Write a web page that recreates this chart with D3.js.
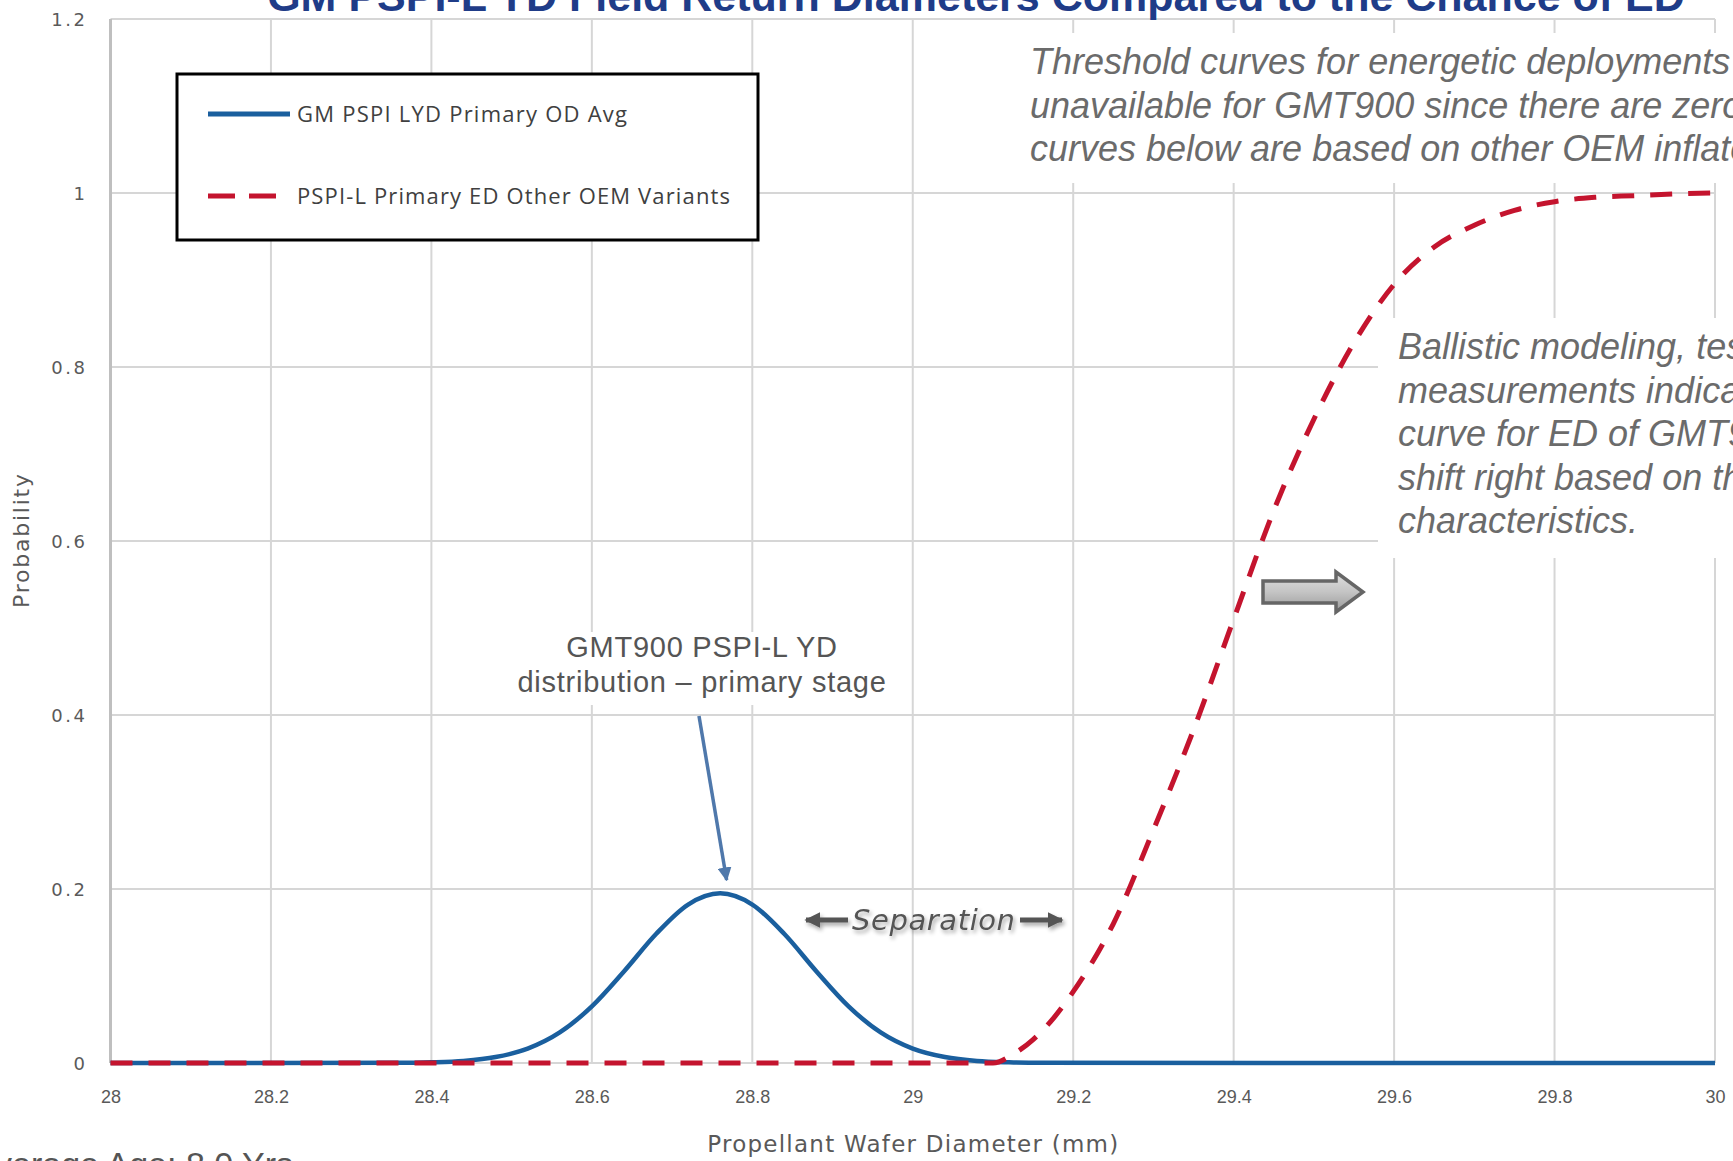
<!DOCTYPE html>
<html>
<head>
<meta charset="utf-8">
<script src="https://cdn.jsdelivr.net/npm/d3@7"></script>
<style>
  html, body { margin: 0; padding: 0; background: #fff; overflow: hidden; }
  svg { display: block; }
</style>
</head>
<body>
<svg id="chart" width="1733" height="1161"></svg>
<script>
// ---------------- DATA ----------------
const xTickValues = [28, 28.2, 28.4, 28.6, 28.8, 29, 29.2, 29.4, 29.6, 29.8, 30];
const xTickLabels = ["28", "28.2", "28.4", "28.6", "28.8", "29", "29.2", "29.4", "29.6", "29.8", "30"];
const yTickValues = [0, 0.2, 0.4, 0.6, 0.8, 1, 1.2];
const yTickLabels = ["0", "0.2", "0.4", "0.6", "0.8", "1", "1.2"];

// GM PSPI LYD Primary OD Avg (distribution)
const blueX = [28, 28.36, 28.40, 28.44, 28.48, 28.52, 28.56, 28.60, 28.64, 28.68, 28.72, 28.76,
               28.80, 28.84, 28.88, 28.92, 28.96, 29.00, 29.04, 29.08, 29.12, 29.16, 30];
const blueY = [0, 0.0002, 0.0008, 0.0024, 0.0068, 0.0165, 0.0351, 0.0651, 0.1052, 0.1482, 0.1821, 0.195,
               0.1821, 0.1482, 0.1052, 0.0651, 0.0351, 0.0165, 0.0068, 0.0024, 0.0008, 0.0002, 0];

// PSPI-L Primary ED Other OEM Variants (threshold curve)
const redX = [28, 29.1, 29.125, 29.15, 29.175, 29.2, 29.25, 29.3, 29.35, 29.4, 29.45, 29.5,
              29.55, 29.6, 29.65, 29.7, 29.75, 29.8, 29.85, 29.9, 29.95, 30];
const redY = [0, 0, 0.010, 0.027, 0.051, 0.082, 0.16, 0.268, 0.383, 0.51, 0.635, 0.74,
              0.828, 0.895, 0.938, 0.963, 0.980, 0.990, 0.995, 0.997, 0.999, 1.0];

const seriesNames = ["GM PSPI LYD Primary OD Avg", "PSPI-L Primary ED Other OEM Variants"];
const titleText = "GM PSPI-L YD Field Return Diameters Compared to the Chance of ED";
const xAxisTitle = "Propellant Wafer Diameter (mm)";
const yAxisTitle = "Probability";
const noteTop = ["Threshold curves for energetic deployments",
                 "unavailable for GMT900 since there are zero",
                 "curves below are based on other OEM inflators"];
const noteRight = ["Ballistic modeling, testing",
                   "measurements indicate",
                   "curve for ED of GMT900",
                   "shift right based on the",
                   "characteristics."];
const peakNote = ["GMT900 PSPI-L YD", "distribution \u2013 primary stage"];
const sepText = "Separation";
const ageText = "Average Age: 8.0 Yrs";

// ---------------- LAYOUT ----------------
const W = 1733, H = 1161;
const plot = { left: 110.5, right: 1715, top: 19, bottom: 1063 };
const svg = d3.select("#chart");

const x = d3.scaleLinear().domain([28, 30]).range([plot.left, plot.right]);
const y = d3.scaleLinear().domain([0, 1.2]).range([plot.bottom, plot.top]);

const defs = svg.append("defs");
const grad = defs.append("linearGradient").attr("id", "arrowGrad").attr("x1", 0).attr("y1", 0).attr("x2", 0).attr("y2", 1);
grad.append("stop").attr("offset", "0%").attr("stop-color", "#e0e0e0");
grad.append("stop").attr("offset", "50%").attr("stop-color", "#c4c4c4");
grad.append("stop").attr("offset", "100%").attr("stop-color", "#999");
const shadow = defs.append("filter").attr("id", "shadow").attr("x", "-20%").attr("y", "-50%").attr("width", "140%").attr("height", "200%");
shadow.append("feGaussianBlur").attr("in", "SourceAlpha").attr("stdDeviation", 2);
shadow.append("feOffset").attr("dx", 2).attr("dy", 3).attr("result", "ob");
shadow.append("feComponentTransfer").append("feFuncA").attr("type", "linear").attr("slope", 0.35);
const merge = shadow.append("feMerge");
merge.append("feMergeNode");
merge.append("feMergeNode").attr("in", "SourceGraphic");

defs.append("marker").attr("id", "blueHead").attr("viewBox", "0 0 10 10").attr("refX", 9).attr("refY", 5)
  .attr("markerWidth", 4).attr("markerHeight", 4).attr("orient", "auto")
  .append("path").attr("d", "M0,0 L10,5 L0,10 Z").attr("fill", "#4f78ab");
defs.append("marker").attr("id", "grayHead").attr("viewBox", "0 0 10 10").attr("refX", 9).attr("refY", 5)
  .attr("markerWidth", 3.2).attr("markerHeight", 3.2).attr("orient", "auto")
  .append("path").attr("d", "M0,0 L10,5 L0,10 Z").attr("fill", "#555");

// ---------------- GRID ----------------
const grid = svg.append("g");
grid.selectAll("line.v").data(xTickValues).join("line")
  .attr("x1", d => x(d)).attr("x2", d => x(d)).attr("y1", y(1.2)).attr("y2", y(0))
  .attr("stroke", "#d6d6d6").attr("stroke-width", 2);
grid.selectAll("line.h").data(yTickValues).join("line")
  .attr("x1", x(28)).attr("x2", x(30)).attr("y1", d => y(d)).attr("y2", d => y(d))
  .attr("stroke", "#d6d6d6").attr("stroke-width", 2);
svg.append("line").attr("x1", x(28)).attr("x2", x(28)).attr("y1", y(1.2)).attr("y2", y(0))
  .attr("stroke", "#bfbfbf").attr("stroke-width", 3);

// ---------------- AXES (labels) ----------------
const xAxis = d3.axisBottom(x).tickValues(xTickValues).tickSize(0)
  .tickFormat((d, i) => xTickLabels[i]);
const gx = svg.append("g").attr("transform", `translate(0,${plot.bottom})`).call(xAxis);
gx.select(".domain").remove();
gx.selectAll("text").attr("dy", 0).attr("y", 40)
  .attr("font-family", "'Liberation Sans', Arial, sans-serif").attr("font-size", 18).attr("fill", "#595959");

const yAxis = d3.axisLeft(y).tickValues(yTickValues).tickSize(0)
  .tickFormat((d, i) => yTickLabels[i]);
const gy = svg.append("g").attr("transform", `translate(${plot.left},0)`).call(yAxis);
gy.select(".domain").remove();
gy.selectAll("text").attr("x", -23).attr("dy", "0.35em")
  .attr("font-family", "'DejaVu Sans', sans-serif").attr("font-size", 18).attr("letter-spacing", 2.5).attr("fill", "#5a5a5a");

svg.append("text").attr("x", x(29)).attr("y", 1152).attr("text-anchor", "middle")
  .attr("font-family", "'DejaVu Sans', sans-serif").attr("font-size", 23).attr("fill", "#595959")
  .attr("textLength", 411).attr("lengthAdjust", "spacing")
  .text(xAxisTitle);
svg.append("text").attr("transform", `translate(29,${y(0.6)}) rotate(-90)`).attr("text-anchor", "middle")
  .attr("font-family", "'DejaVu Sans', sans-serif").attr("font-size", 22).attr("fill", "#595959")
  .attr("textLength", 134).attr("lengthAdjust", "spacing")
  .text(yAxisTitle);

// ---------------- TITLE ----------------
svg.append("text").attr("x", 976).attr("y", 11).attr("text-anchor", "middle")
  .attr("font-family", "'Liberation Sans', Arial, sans-serif").attr("font-weight", "bold").attr("font-size", 43)
  .attr("fill", "#1f3c88").text(titleText);

// ---------------- SERIES ----------------
const line = d3.line().x(d => x(d[0])).y(d => y(d[1])).curve(d3.curveMonotoneX);
svg.append("path").datum(blueX.map((v, i) => [v, blueY[i]])).attr("d", line)
  .attr("fill", "none").attr("stroke", "#1a5f9e").attr("stroke-width", 4.5).attr("stroke-linejoin", "round");
svg.append("path").datum(redX.map((v, i) => [v, redY[i]])).attr("d", line)
  .attr("fill", "none").attr("stroke", "#c4142e").attr("stroke-width", 5).attr("stroke-dasharray", "22,16");

// ---------------- LEGEND ----------------
const lg = svg.append("g");
lg.append("rect").attr("x", 177).attr("y", 74).attr("width", 581).attr("height", 166)
  .attr("fill", "#fff").attr("stroke", "#000").attr("stroke-width", 3);
const legendRows = [
  { name: seriesNames[0], color: "#1a5f9e", dash: null, x2: 290, yy: 114, len: 330 },
  { name: seriesNames[1], color: "#c4142e", dash: "27,14", x2: 276, yy: 196, len: 433 }
];
legendRows.forEach(r => {
  lg.append("line").attr("x1", 208).attr("x2", r.x2).attr("y1", r.yy).attr("y2", r.yy)
    .attr("stroke", r.color).attr("stroke-width", 5).attr("stroke-dasharray", r.dash);
  lg.append("text").attr("x", 297).attr("y", r.yy).attr("dy", "0.35em")
    .attr("font-family", "'Open Sans', sans-serif").attr("font-size", 22).attr("fill", "#404040")
    .attr("textLength", r.len).attr("lengthAdjust", "spacing").text(r.name);
});

// ---------------- ANNOTATIONS ----------------
const noteFont = "'Liberation Sans', Arial, sans-serif";
svg.append("rect").attr("x", 1020).attr("y", 33).attr("width", 713).attr("height", 150).attr("fill", "#fff");
svg.append("text").attr("font-family", noteFont).attr("font-style", "italic").attr("font-size", 36).attr("fill", "#6b6b6b")
  .selectAll("tspan").data(noteTop).join("tspan")
  .attr("x", 1030).attr("y", (d, i) => 74 + i * 43.5).text(d => d);

svg.append("rect").attr("x", 1378).attr("y", 318).attr("width", 355).attr("height", 240).attr("fill", "#fff");
svg.append("text").attr("font-family", noteFont).attr("font-style", "italic").attr("font-size", 36).attr("fill", "#6b6b6b")
  .selectAll("tspan").data(noteRight).join("tspan")
  .attr("x", 1398).attr("y", (d, i) => 359 + i * 43.5).text(d => d);

// gray block arrow
const ax0 = 1263, ax1 = 1336, axTip = 1363, ayc = 592;
svg.append("path")
  .attr("d", `M${ax0},${ayc - 11} L${ax1},${ayc - 11} L${ax1},${ayc - 20} L${axTip},${ayc} L${ax1},${ayc + 20} L${ax1},${ayc + 11} L${ax0},${ayc + 11} Z`)
  .attr("fill", "url(#arrowGrad)").attr("stroke", "#666").attr("stroke-width", 3.5).attr("stroke-linejoin", "miter");

// peak note
svg.append("rect").attr("x", 497).attr("y", 632).attr("width", 400).attr("height", 73).attr("fill", "#fff");
svg.append("text").attr("text-anchor", "middle").attr("font-family", noteFont).attr("font-size", 29)
  .attr("letter-spacing", 0.75).attr("fill", "#555")
  .selectAll("tspan").data(peakNote).join("tspan")
  .attr("x", 702).attr("y", (d, i) => 657 + i * 35).text(d => d);
svg.append("line").attr("x1", 699).attr("y1", 716).attr("x2", x(28.768)).attr("y2", 880)
  .attr("stroke", "#4f78ab").attr("stroke-width", 3.5).attr("marker-end", "url(#blueHead)");

// separation
const sepG = svg.append("g").attr("filter", "url(#shadow)");
sepG.append("text").attr("x", 852).attr("y", 930).attr("font-family", "'DejaVu Sans', sans-serif")
  .attr("font-style", "italic").attr("font-size", 29).attr("fill", "#555").attr("textLength", 163).attr("lengthAdjust", "spacing").text(sepText);
sepG.append("line").attr("x1", 848).attr("x2", 806).attr("y1", 920).attr("y2", 920)
  .attr("stroke", "#555").attr("stroke-width", 5).attr("marker-end", "url(#grayHead)");
sepG.append("line").attr("x1", 1020).attr("x2", 1062).attr("y1", 920).attr("y2", 920)
  .attr("stroke", "#555").attr("stroke-width", 5).attr("marker-end", "url(#grayHead)");

// bottom-left age note (cut by page edge in the reference)
svg.append("text").attr("x", 293).attr("y", 1176).attr("text-anchor", "end")
  .attr("font-family", noteFont).attr("font-size", 34).attr("fill", "#555").text(ageText);
</script>
</body>
</html>
